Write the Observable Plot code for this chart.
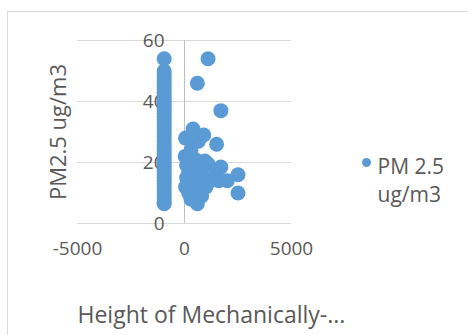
<!DOCTYPE html>
<html>
<head>
<meta charset="utf-8">
<script src="https://cdn.jsdelivr.net/npm/d3@7"></script>
<script src="https://cdn.jsdelivr.net/npm/@observablehq/plot@0.6"></script>
<style>
  body { margin: 0; background: #fff; width: 468px; height: 335px; overflow: hidden; position: relative; font-family: "Open Sans", Lato, sans-serif; }
  #frame { position: absolute; left: 7px; top: 11px; width: 600px; height: 400px; border: 1px solid #d9d9d9; box-sizing: border-box; }
  #chart { position: absolute; left: 0; top: 0; }
</style>
</head>
<body>
<div id="frame"></div>
<div id="chart"></div>
<script>
// Series: PM 2.5 ug/m3 vs Height of Mechanically-...
const columnX = -950;
const columnY = [54, 50, 49, 48, 47, 46, 45, 44, 43, 42, 41, 40, 39, 38, 37, 36, 35, 34, 33, 32, 31, 30,
  29, 28, 27, 26, 25, 24, 23, 22, 21, 20, 19, 18, 17, 16, 15, 14, 13, 12, 11, 10, 9, 8, 7, 6.5];
const clusterX = [1100, 600, 1700, 400, 50, 900, 650, 1500, 300, 30, 150, 950, 1100, 1700, 2500, 2500, 2000, 1600,
  1300, 1500, 400, 700, 200, 500, 800, 100, 300, 600, 900, 50, 400, 700, 200, 500, 800, 300, 600, 1000, 1200, 100, 500, 250];
const clusterY = [54, 46, 37, 31, 28, 29, 27, 26, 24, 22, 21, 20.5, 19.5, 18.5, 16, 10, 14, 14,
  15, 17, 18, 19, 17, 16, 16, 15, 14, 13, 13, 12, 11, 11, 10, 9, 9, 8, 6.5, 12, 14, 19, 21, 23];

const xTicks = [-5000, 0, 5000];
const yTicks = [0, 20, 40, 60];
const xTitle = "Height of Mechanically-...";
const yTitle = "PM2.5 ug/m3";
const seriesName = "PM 2.5\nug/m3";

const points = [
  ...columnY.map(y => ({x: columnX, y})),
  ...clusterX.map((x, i) => ({x, y: clusterY[i]}))
];

const blue = "#5b9bd5";
const grey = "#595959";

const chart = Plot.plot({
  width: 468,
  height: 335,
  marginLeft: 77,
  marginRight: 177,
  marginTop: 40,
  marginBottom: 112,
  x: {domain: [-5000, 5000], axis: null},
  y: {domain: [0, 60], axis: null},
  style: {fontFamily: "'Open Sans', Lato, sans-serif", background: "transparent", overflow: "visible"},
  marks: [
    Plot.ruleY(yTicks, {stroke: "#d9d9d9", strokeWidth: 1}),
    Plot.ruleX([0], {stroke: "#bfbfbf", strokeWidth: 1}),
    Plot.text(yTicks, {x: () => 0, y: d => d, text: d => String(d), dx: -20, textAnchor: "end", fontSize: 19, fill: grey}),
    Plot.text(xTicks, {x: d => d, frameAnchor: "bottom", text: d => String(d), dy: 31, fontSize: 19, fill: grey}),
    Plot.text([yTitle], {frameAnchor: "left", text: d => d, dx: -19, rotate: -90, textAnchor: "middle", fontSize: 22, fill: grey}),
    Plot.text([xTitle], {frameAnchor: "bottom-left", text: d => d, dy: 99, textAnchor: "start", fontSize: 23, fill: grey}),
    Plot.dot(points, {x: "x", y: "y", r: 7.5, fill: blue, stroke: "none"}),
    Plot.dot([seriesName], {frameAnchor: "top-right", dx: 75, dy: 122, r: 4.5, fill: blue}),
    Plot.text([seriesName], {frameAnchor: "top-right", text: d => d, dx: 86, dy: 113, textAnchor: "start", lineAnchor: "top", lineHeight: 1.35, fontSize: 21, fill: grey})
  ]
});
document.getElementById("chart").appendChild(chart);
</script>
</body>
</html>
